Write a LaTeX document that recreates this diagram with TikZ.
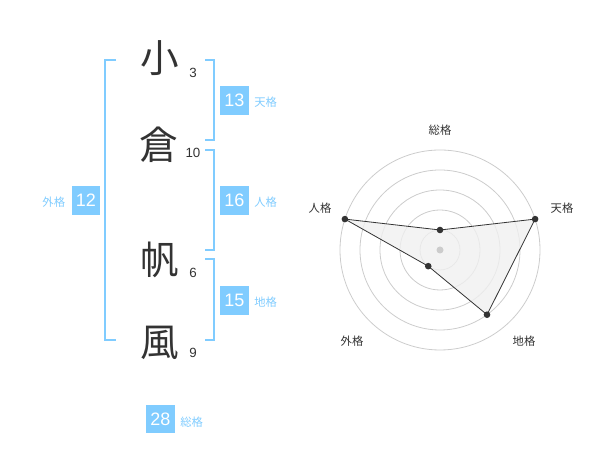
\documentclass[tikz,border=0pt]{standalone}
\usepackage{fontspec}
\setmainfont{Liberation Sans}
\newfontfamily\cjk{Noto Sans CJK JP}
\usetikzlibrary{calc}
\definecolor{kakublue}{RGB}{128,204,255}
\definecolor{inkgray}{RGB}{51,51,51}
\tikzset{
  kanji/.style={font=\cjk\fontsize{29}{29}\selectfont, text=inkgray, inner sep=0pt},
  strokes/.style={font=\fontsize{10}{10}\selectfont, text=inkgray, inner sep=0pt},
  scorebox/.style={fill=kakublue, text=white, minimum width=21.5pt, minimum height=21.5pt, inner sep=0pt, font=\fontsize{13.5}{13.5}\selectfont},
  scorelabel/.style={font=\cjk\fontsize{8.5}{8.5}\selectfont, text=kakublue, inner sep=0pt},
  axislabel/.style={font=\cjk\fontsize{8.5}{8.5}\selectfont, text=inkgray, inner sep=0pt},
  bracket/.style={draw=kakublue, line width=1.5pt},
}
\begin{document}
\begin{tikzpicture}[x=0.75pt, y=0.75pt]
        \useasboundingbox (0,0) rectangle (600,470);

        % name
        \node[kanji] (k1) at (160,412) {小};
        \node[kanji] (k2) at (159,325) {倉};
        \node[kanji] (k3) at (160,210) {帆};
        \node[kanji] (k4) at (160,127) {風};

        \node[strokes] (s1) at (193,397) {3};
        \node[strokes] (s2) at (193,317) {10};
        \node[strokes] (s3) at (193,197) {6};
        \node[strokes] (s4) at (193,117) {9};

        % brackets
        \draw[bracket] (116,410) -- (105,410) -- (105,130) -- (116,130);
        \draw[bracket] (205,410) -- (214,410) -- (214,330) -- (205,330);
        \draw[bracket] (205,320) -- (214,320) -- (214,220) -- (205,220);
        \draw[bracket] (205,211) -- (214,211) -- (214,130) -- (205,130);

        % scores
        \node[scorebox] (ten) at (234.5,369.5) {13};
        \node[scorebox] (jin) at (234.5,269.5) {16};
        \node[scorebox] (chi) at (234.5,169.5) {15};
        \node[scorebox] (gai) at (86,269.5) {12};
        \node[scorebox] (sou) at (160.5,51) {28};

        \node[scorelabel, anchor=west] at ($(ten.east)+(5,-2)$) {天格};
        \node[scorelabel, anchor=west] at ($(jin.east)+(5,-2)$) {人格};
        \node[scorelabel, anchor=west] at ($(chi.east)+(5,-2)$) {地格};
        \node[scorelabel, anchor=east] at ($(gai.west)+(-6,-2)$) {外格};
        \node[scorelabel, anchor=west] at ($(sou.east)+(5,-3)$) {総格};

        % radar
        \coordinate (C) at (440,220);
        \foreach \r in {20,40,60,80,100}
            \draw[gray!40, line width=0.6pt] (C) circle (\r);

        \coordinate (P1) at ($(C)+(90:20)$);
        \coordinate (P2) at ($(C)+(18:100)$);
        \coordinate (P3) at ($(C)+(-54:80)$);
        \coordinate (P4) at ($(C)+(234:20)$);
        \coordinate (P5) at ($(C)+(162:100)$);

        \filldraw[fill=gray!12, fill opacity=0.8, draw=inkgray, line width=0.6pt]
            (P1) -- (P2) -- (P3) -- (P4) -- (P5) -- cycle;
        \fill[gray!40] (C) circle (3.5);
        \foreach \p in {P1,P2,P3,P4,P5}
            \fill[inkgray] (\p) circle (3.3);

        \node[axislabel] (a1) at (440,340) {総格};
        \node[axislabel] (a2) at (562,262) {天格};
        \node[axislabel] (a3) at (524,129) {地格};
        \node[axislabel] (a4) at (352,129) {外格};
        \node[axislabel] (a5) at (320,262) {人格};

    \end{tikzpicture}
\end{document}
